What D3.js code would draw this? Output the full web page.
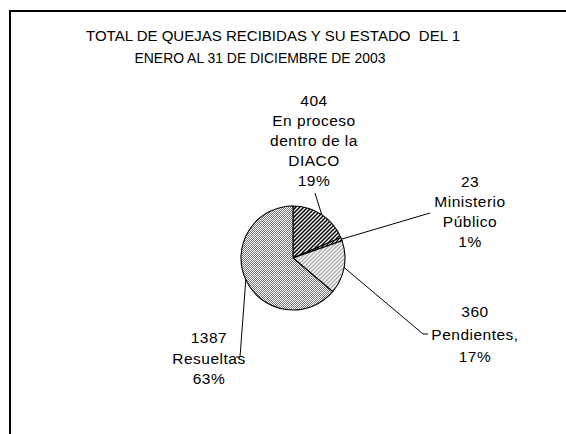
<!DOCTYPE html>
<html>
<head>
<meta charset="utf-8">
<script src="https://cdn.jsdelivr.net/npm/d3@7"></script>
<style>
  body { margin: 0; background: #fff; }
  text { font-family: 'Liberation Sans', Arial, sans-serif; fill: #000; }
</style>
</head>
<body>
<div id="chart"></div>
<script>
// Data
const TITLE_LINES = ['TOTAL DE QUEJAS RECIBIDAS Y SU ESTADO  DEL 1', 'ENERO AL 31 DE DICIEMBRE DE 2003'];
const CATEGORIES  = ['En proceso dentro de la DIACO', 'Ministerio Público', 'Pendientes', 'Resueltas'];
const VALUES      = [404, 23, 360, 1387];
const NAME_LINES  = [['En proceso', 'dentro de la', 'DIACO'], ['Ministerio', 'Público'], ['Pendientes,'], ['Resueltas']];
const PCT_LABELS  = ['19%', '1%', '17%', '63%'];

const WIDTH  = 566;
const HEIGHT = 434;

const PIE = {
  cx: 293,
  cy: 258,
  r: 52
};

// title lines: centre x, baseline, drawn width
const TITLE_POS = [
  { x: 273, y: 41, w: 374 },
  { x: 260, y: 63, w: 251 }
];

// label boxes: centre x, first baseline, line height, leader end + tick
const LABELS = [
  { x: 314, y: 106, lh: 20,   end: [315, 193], tick: 0 },
  { x: 470, y: 187, lh: 20,   end: [430, 213], tick: 0 },
  { x: 475, y: 317, lh: 22.5, end: [423, 334], tick: 5 },
  { x: 209, y: 343, lh: 20.5, end: [240, 357], tick: -4 }
];

const svg = d3.select('#chart').append('svg')
  .attr('width', WIDTH)
  .attr('height', HEIGHT);

// fill patterns
const defs = svg.append('defs');

function stripes(id, color, size, dir) {
  let p = defs.append('pattern')
    .attr('id', id)
    .attr('patternUnits', 'userSpaceOnUse')
    .attr('width', size)
    .attr('height', size);
  p.append('rect').attr('width', size).attr('height', size).style('fill', '#fff');
  let d = dir > 0
    ? `M0,${size} L${size},0 M${-size / 2},${size / 2} L${size / 2},${-size / 2} M${size / 2},${size * 1.5} L${size * 1.5},${size / 2}`
    : `M0,0 L${size},${size} M${-size / 2},${size / 2} L${size / 2},${size * 1.5} M${size / 2},${-size / 2} L${size * 1.5},${size / 2}`;
  p.append('path')
    .attr('d', d)
    .style('stroke', color)
    .style('stroke-width', size / 2.6);
}

stripes('pat0', '#000', 4, 1);
stripes('pat1', '#000', 3, 1);
stripes('pat2', '#b0b0b0', 4, 1);

let check = defs.append('pattern')
  .attr('id', 'pat3')
  .attr('patternUnits', 'userSpaceOnUse')
  .attr('width', 2)
  .attr('height', 2);
check.append('rect').attr('width', 2).attr('height', 2).style('fill', '#fff');
check.append('rect').attr('width', 1).attr('height', 1).style('fill', '#777');
check.append('rect').attr('x', 1).attr('y', 1).attr('width', 1).attr('height', 1).style('fill', '#777');

// chart frame (runs off the right and bottom edges)
svg.append('rect')
  .attr('x', 10)
  .attr('y', 11)
  .attr('width', WIDTH)
  .attr('height', HEIGHT)
  .style('fill', 'none')
  .style('stroke', '#000')
  .style('stroke-width', 2);

// Title
svg.append('g').selectAll('text')
    .data(TITLE_LINES)
  .enter().append('text')
    .text(d => d)
    .attr('x', (d, i) => TITLE_POS[i].x)
    .attr('y', (d, i) => TITLE_POS[i].y)
    .attr('text-anchor', 'middle')
    .attr('font-size', 15)
    .attr('textLength', (d, i) => TITLE_POS[i].w)
    .attr('lengthAdjust', 'spacingAndGlyphs')
    .style('white-space', 'pre');

// Pie
const pie = d3.pie().sort(null).value(d => d)
  .startAngle(0).endAngle(2 * Math.PI);
const arcs = pie(VALUES);
const arc = d3.arc().innerRadius(0).outerRadius(PIE.r);

const g = svg.append('g')
  .attr('transform', `translate(${PIE.cx},${PIE.cy})`);

g.selectAll('.slice')
    .data(arcs)
  .enter().append('path')
    .attr('class', 'slice')
    .attr('d', arc)
    .style('fill', (d, i) => `url(#pat${i})`)
    .style('stroke', '#000')
    .style('stroke-width', 1.1);

// Leader lines from the slice edge at mid angle
const edge = d => {
  let a = (d.startAngle + d.endAngle) / 2;
  return [PIE.cx + PIE.r * Math.sin(a), PIE.cy - PIE.r * Math.cos(a)];
};

svg.append('g').selectAll('polyline')
    .data(arcs)
  .enter().append('polyline')
    .attr('points', (d, i) => {
      let l = LABELS[i];
      let pts = [edge(d), l.end];
      if (l.tick) pts.push([l.end[0] + l.tick, l.end[1]]);
      return pts.map(p => p.join(',')).join(' ');
    })
    .style('fill', 'none')
    .style('stroke', '#000')
    .style('stroke-width', 1);

// Data labels: value, name, percent
svg.append('g').selectAll('text')
    .data(arcs)
  .enter().append('text')
    .attr('text-anchor', 'middle')
    .attr('font-size', 15.5)
    .style('letter-spacing', '0.5px')
    .each(function(d, i) {
      let l = LABELS[i];
      let lines = [String(VALUES[i])].concat(NAME_LINES[i], [PCT_LABELS[i]]);
      d3.select(this).selectAll('tspan')
          .data(lines)
        .enter().append('tspan')
          .attr('x', l.x)
          .attr('y', (t, j) => l.y + j * l.lh)
          .text(t => t);
    });
</script>
</body>
</html>
